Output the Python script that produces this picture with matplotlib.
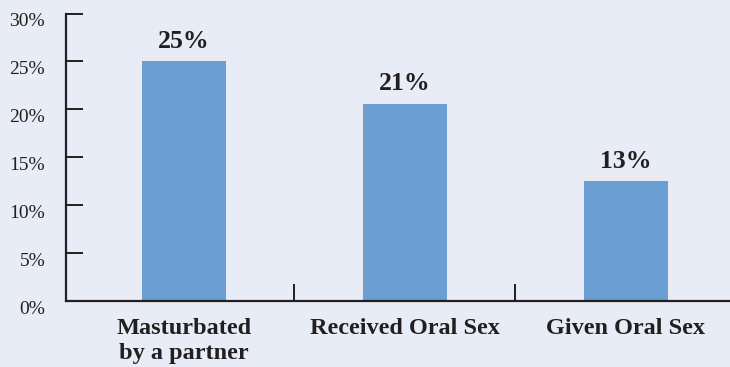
import matplotlib.pyplot as plt

categories = ["Masturbated\nby a partner", "Received Oral Sex", "Given Oral Sex"]
values = [25.0, 20.6, 12.5]
value_labels = ["25%", "21%", "13%"]
yticks = [0, 5, 10, 15, 20, 25, 30]
ytick_labels = ["0%", "5%", "10%", "15%", "20%", "25%", "30%"]

bg = "#e8ecf6"
bar_color = "#6b9fd4"
ink = "#231f20"

plt.rcParams["font.family"] = ["Liberation Serif", "DejaVu Serif"]

fig = plt.figure(figsize=(7.3, 3.67), dpi=100, facecolor=bg)
ax = fig.add_axes([66 / 730, 66 / 367, 664 / 730, 287.5 / 367])
ax.set_facecolor(bg)

x = list(range(len(categories)))
ax.bar(x, values, width=0.38, color=bar_color, zorder=1)

for xi, v, lab in zip(x, values, value_labels):
    ax.annotate(lab, (xi, v), xytext=(0, 6), textcoords="offset points",
                ha="center", va="bottom", fontsize=18.5, fontweight="bold", color=ink)

ax.set_xlim(-0.534, 2.471)
ax.set_ylim(0, 30)

for s in ["top", "right"]:
    ax.spines[s].set_visible(False)
for s in ["left", "bottom"]:
    ax.spines[s].set_linewidth(1.6)
    ax.spines[s].set_color(ink)
    ax.spines[s].set_zorder(3)

ax.set_yticks(yticks)
ax.set_yticklabels(ytick_labels, fontsize=14, color=ink, va="top")
ax.tick_params(axis="y", direction="in", length=12.5, width=1.4, color=ink, pad=15)

ax.set_xticks(x)
ax.set_xticklabels(categories, fontsize=17.5, fontweight="bold", color=ink, linespacing=1.3)
ax.tick_params(axis="x", which="major", length=0, pad=12)
ax.set_xticks([0.5, 1.5], minor=True)
ax.tick_params(axis="x", which="minor", direction="in", length=12, width=1.4, color=ink)

fig.savefig("out.png", dpi=100, facecolor=bg)
